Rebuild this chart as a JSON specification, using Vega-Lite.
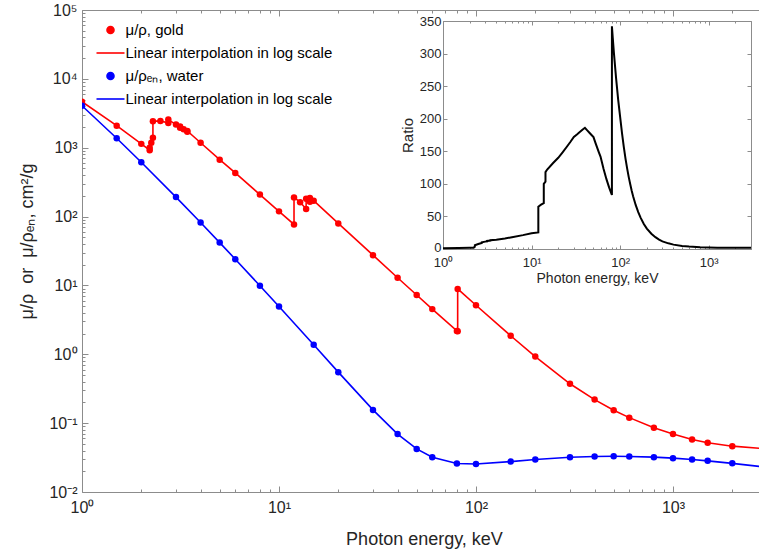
{
  "$schema": "https://vega.github.io/schema/vega-lite/v6.json",
  "width": 677,
  "height": 482,
  "autosize": {"type": "none"},
  "padding": {"left": 82, "top": 10, "right": 0, "bottom": 62},
  "background": "white",
  "config": {
    "view": {"stroke": null},
    "font": "Liberation Sans",
    "axis": {"grid": false, "domainColor": "#8c8c8c", "tickColor": "#8c8c8c", "labelColor": "#262626", "titleColor": "#262626", "titleFontWeight": "normal", "labelFont": "Liberation Sans", "titleFont": "Liberation Sans", "labelOverlap": false, "labelFlush": false}
  },
  "datasets": {
    "gold": [
      {"E": 1, "v": 4652}, {"E": 1.5, "v": 2089}, {"E": 2, "v": 1137},
      {"E": 2.206, "v": 919}, {"E": 2.206, "v": 997}, {"E": 2.248, "v": 1180},
      {"E": 2.291, "v": 1400}, {"E": 2.291, "v": 2420}, {"E": 2.5, "v": 2450},
      {"E": 2.743, "v": 2280}, {"E": 2.743, "v": 2560}, {"E": 3, "v": 2170},
      {"E": 3.148, "v": 1950}, {"E": 3.148, "v": 2030}, {"E": 3.28, "v": 1860},
      {"E": 3.425, "v": 1700}, {"E": 3.425, "v": 1750}, {"E": 4, "v": 1180},
      {"E": 5, "v": 670}, {"E": 6, "v": 430}, {"E": 8, "v": 209}, {"E": 10, "v": 119},
      {"E": 11.919, "v": 77}, {"E": 11.919, "v": 190}, {"E": 12.8, "v": 162},
      {"E": 13.734, "v": 129}, {"E": 13.734, "v": 181}, {"E": 14.353, "v": 164},
      {"E": 14.353, "v": 186}, {"E": 15, "v": 170}, {"E": 20, "v": 79.5},
      {"E": 30, "v": 27.5}, {"E": 40, "v": 12.93}, {"E": 50, "v": 7.256},
      {"E": 60, "v": 4.528}, {"E": 80, "v": 2.185}, {"E": 80.725, "v": 2.155},
      {"E": 80.725, "v": 8.904}, {"E": 100, "v": 5.158}, {"E": 150, "v": 1.859},
      {"E": 200, "v": 0.9276}, {"E": 300, "v": 0.3728}, {"E": 400, "v": 0.2197},
      {"E": 500, "v": 0.1542}, {"E": 600, "v": 0.1202}, {"E": 800, "v": 0.0856},
      {"E": 1000, "v": 0.0695}, {"E": 1250, "v": 0.0579}, {"E": 1500, "v": 0.0519},
      {"E": 2000, "v": 0.0463}, {"E": 3000, "v": 0.0422}
    ],
    "water": [
      {"E": 1, "v": 4065}, {"E": 1.5, "v": 1372}, {"E": 2, "v": 615.2},
      {"E": 3, "v": 191.7}, {"E": 4, "v": 81.91}, {"E": 5, "v": 41.88},
      {"E": 6, "v": 24.05}, {"E": 8, "v": 9.915}, {"E": 10, "v": 4.944},
      {"E": 15, "v": 1.374}, {"E": 20, "v": 0.5503}, {"E": 30, "v": 0.1557},
      {"E": 40, "v": 0.06947}, {"E": 50, "v": 0.04223}, {"E": 60, "v": 0.0319},
      {"E": 80, "v": 0.02597}, {"E": 100, "v": 0.02546}, {"E": 150, "v": 0.02764},
      {"E": 200, "v": 0.02967}, {"E": 300, "v": 0.03192}, {"E": 400, "v": 0.03279},
      {"E": 500, "v": 0.03299}, {"E": 600, "v": 0.03284}, {"E": 800, "v": 0.03206},
      {"E": 1000, "v": 0.03103}, {"E": 1250, "v": 0.02965}, {"E": 1500, "v": 0.02833},
      {"E": 2000, "v": 0.02608}, {"E": 3000, "v": 0.02281}
    ],
    "ratio": [
      {"E": 1, "R": 1.14}, {"E": 1.5, "R": 1.52}, {"E": 2, "R": 1.85},
      {"E": 2.206, "R": 1.98}, {"E": 2.206, "R": 2.15}, {"E": 2.248, "R": 2.7},
      {"E": 2.291, "R": 3.4}, {"E": 2.291, "R": 5.8}, {"E": 2.5, "R": 7.6},
      {"E": 2.743, "R": 9.2}, {"E": 2.743, "R": 10.3}, {"E": 3, "R": 11.3},
      {"E": 3.148, "R": 11.8}, {"E": 3.148, "R": 12.3}, {"E": 3.425, "R": 13.0},
      {"E": 3.425, "R": 13.6}, {"E": 4, "R": 14.3}, {"E": 5, "R": 16.1},
      {"E": 6, "R": 18.2}, {"E": 8, "R": 21.3}, {"E": 10, "R": 24.3},
      {"E": 11.919, "R": 25.5}, {"E": 11.919, "R": 65}, {"E": 12.8, "R": 68},
      {"E": 13.734, "R": 70.5}, {"E": 13.734, "R": 100}, {"E": 14.353, "R": 103.5},
      {"E": 14.353, "R": 118}, {"E": 15, "R": 122}, {"E": 17.5, "R": 132},
      {"E": 20, "R": 140}, {"E": 22.5, "R": 148.6}, {"E": 25, "R": 157},
      {"E": 27.5, "R": 164.6}, {"E": 30, "R": 172}, {"E": 32.5, "R": 175.8},
      {"E": 35, "R": 179.5}, {"E": 37.5, "R": 183}, {"E": 40, "R": 186},
      {"E": 42.5, "R": 182}, {"E": 45, "R": 178.4}, {"E": 47.5, "R": 175},
      {"E": 50, "R": 171.8}, {"E": 52.5, "R": 163.2}, {"E": 55, "R": 155.5},
      {"E": 57.5, "R": 148.4}, {"E": 60, "R": 141.9},
      {"E": 65, "R": 122.7}, {"E": 70, "R": 107.2}, {"E": 75, "R": 94.6},
      {"E": 80, "R": 84.1}, {"E": 80.725, "R": 83.0}, {"E": 80.725, "R": 342},
      {"E": 82.5, "R": 324}, {"E": 85, "R": 301}, {"E": 90, "R": 262}, {"E": 95, "R": 229},
      {"E": 100, "R": 202.6}, {"E": 105, "R": 177.4}, {"E": 110, "R": 156.3},
      {"E": 115, "R": 138.5}, {"E": 120, "R": 123.4}, {"E": 125, "R": 110.4},
      {"E": 130, "R": 99.3}, {"E": 135, "R": 89.5}, {"E": 140, "R": 81.1},
      {"E": 150, "R": 67.3}, {"E": 160, "R": 56.7}, {"E": 170, "R": 48.2},
      {"E": 185, "R": 38.5}, {"E": 200, "R": 31.3}, {"E": 225, "R": 23.5},
      {"E": 250, "R": 18.2}, {"E": 275, "R": 14.4}, {"E": 300, "R": 11.7},
      {"E": 350, "R": 8.7}, {"E": 400, "R": 6.7}, {"E": 500, "R": 4.67},
      {"E": 600, "R": 3.66}, {"E": 800, "R": 2.67}, {"E": 1000, "R": 2.24},
      {"E": 1250, "R": 1.95}, {"E": 1500, "R": 1.83}, {"E": 2000, "R": 1.78},
      {"E": 3000, "R": 1.85}
    ]
  },
  "layer": [
    {
      "layer": [
        {
          "data": {"name": "gold"},
          "mark": {"type": "line", "strokeWidth": 1.6, "clip": true},
          "encoding": {
            "x": {"field": "E", "type": "quantitative", "scale": {"type": "log", "domain": [1, 2733], "nice": false},
              "axis": {"orient": "bottom", "values": [1,2,3,4,5,6,7,8,9,10,20,30,40,50,60,70,80,90,100,200,300,400,500,600,700,800,900,1000,2000],
                "labelExpr": "datum.value==1?'10⁰':datum.value==10?'10¹':datum.value==100?'10²':datum.value==1000?'10³':''",
                "labelFontSize": 16, "labelPadding": 13,
                "tickSize": {"condition": {"test": "indexof([1,10,100,1000], datum.value) >= 0", "value": -6}, "value": -3},
                "title": "Photon energy, keV", "titleFontSize": 18, "titleX": 342, "titleY": 52, "titleBaseline": "alphabetic", "titleAlign": "center"}},
            "y": {"field": "v", "type": "quantitative", "scale": {"type": "log", "domain": [0.01, 100000], "nice": false},
              "axis": {"orient": "left", "values": [0.01,0.02,0.03,0.04,0.05,0.06,0.07,0.08,0.09,0.1,0.2,0.3,0.4,0.5,0.6,0.7,0.8,0.9,1,2,3,4,5,6,7,8,9,10,20,30,40,50,60,70,80,90,100,200,300,400,500,600,700,800,900,1000,2000,3000,4000,5000,6000,7000,8000,9000,10000,20000,30000,40000,50000,60000,70000,80000,90000,100000],
                "labelExpr": "abs(log(datum.value)/LN10 - round(log(datum.value)/LN10)) > 0.001 ? '' : ['10⁻²','10⁻¹','10⁰','10¹','10²','10³','10⁴','10⁵'][round(log(datum.value)/LN10)+2]",
                "labelFontSize": 16, "labelPadding": 11, "labelBaseline": "middle",
                "tickSize": {"condition": {"test": "abs(log(datum.value)/LN10 - round(log(datum.value)/LN10)) < 0.001", "value": -6}, "value": -3},
                "title": "μ/ρ\u00a0\u00a0or\u00a0\u00a0μ/ρₑₙ, cm²/g", "titleFontSize": 18, "titleX": -50, "titleY": 231, "titleBaseline": "alphabetic", "titleAlign": "center", "titleAngle": 270}},
            "color": {"datum": "gl", "type": "nominal",
              "scale": {"domain": ["gp", "gl", "wp", "wl"], "range": ["#ff0000", "#ff0000", "#0000ff", "#0000ff"]},
              "legend": {"orient": "none", "legendX": 19.5, "legendY": 11, "title": null, "padding": 0, "symbolSize": 256, "labelFontSize": 15, "labelColor": "#000000", "labelFont": "Liberation Sans", "labelOffset": 6, "rowPadding": 6, "labelLimit": 0,
                "labelExpr": "datum.value=='gp'?'μ/ρ, gold':datum.value=='wp'?'μ/ρₑₙ, water':'Linear interpolation in log scale'",
                "encode": {"symbols": {"update": {
                  "shape": {"signal": "(datum.value=='gp'||datum.value=='wp') ? 'M-0.4375,0A0.4375,0.4375,0,1,0,0.4375,0A0.4375,0.4375,0,1,0,-0.4375,0Z' : 'M-1.75,0H1.75'"},
                  "fill": {"signal": "datum.value=='gp'?'#ff0000':datum.value=='wp'?'#0000ff':'transparent'"},
                  "stroke": {"signal": "(datum.value=='gp'||datum.value=='gl')?'#ff0000':'#0000ff'"},
                  "strokeWidth": {"value": 1.6},
                  "size": {"value": 256},
                  "opacity": {"value": 1}
                }}}}}
          }
        },
        {
          "data": {"name": "gold"},
          "mark": {"type": "circle", "size": 42, "opacity": 1, "clip": true},
          "encoding": {
            "x": {"field": "E", "type": "quantitative",
              "axis": {"orient": "top", "values": [1,2,3,4,5,6,7,8,9,10,20,30,40,50,60,70,80,90,100,200,300,400,500,600,700,800,900,1000,2000], "labels": false, "title": null,
                "tickSize": {"condition": {"test": "indexof([1,10,100,1000], datum.value) >= 0", "value": -6}, "value": -3}}},
            "y": {"field": "v", "type": "quantitative", "axis": null},
            "color": {"datum": "gp", "type": "nominal"}
          }
        },
        {
          "data": {"name": "water"},
          "mark": {"type": "line", "strokeWidth": 1.6, "clip": true},
          "encoding": {
            "x": {"field": "E", "type": "quantitative", "axis": null},
            "y": {"field": "v", "type": "quantitative", "axis": null},
            "color": {"datum": "wl", "type": "nominal"}
          }
        },
        {
          "data": {"name": "water"},
          "mark": {"type": "circle", "size": 42, "opacity": 1, "clip": true},
          "encoding": {
            "x": {"field": "E", "type": "quantitative", "axis": null},
            "y": {"field": "v", "type": "quantitative", "axis": null},
            "color": {"datum": "wp", "type": "nominal"}
          }
        }
      ],
      "resolve": {"axis": {"x": "independent", "y": "independent"}}
    },
    {
      "layer": [
        {
          "data": {"name": "ratio"},
          "mark": {"type": "line", "strokeWidth": 2, "color": "#000000"},
          "encoding": {
            "x": {"field": "E", "type": "quantitative", "scale": {"type": "log", "domain": [1, 3000], "range": [361, 669], "nice": false},
              "axis": {"orient": "bottom", "offset": -243, "values": [1,2,3,4,5,6,7,8,9,10,20,30,40,50,60,70,80,90,100,200,300,400,500,600,700,800,900,1000,2000,3000],
                "labelExpr": "datum.value==1?'10⁰':datum.value==10?'10¹':datum.value==100?'10²':datum.value==1000?'10³':''",
                "labelFontSize": 13, "labelPadding": 11,
                "tickSize": {"condition": {"test": "indexof([1,10,100,1000], datum.value) >= 0", "value": -4}, "value": -2},
                "title": "Photon energy, keV", "titleFontSize": 14, "titlePadding": 0}},
            "y": {"field": "R", "type": "quantitative", "scale": {"domain": [0, 350], "range": [239, 11], "nice": false, "zero": true},
              "axis": {"orient": "left", "offset": -361, "values": [0,50,100,150,200,250,300,350], "labelFontSize": 13, "labelPadding": 6, "tickSize": -4,
                "labelOffset": {"condition": {"test": "datum.value == 0", "value": -2}, "value": 0},
                "title": "Ratio", "titleFontSize": 15, "titlePadding": 4}}
          }
        },
        {
          "data": {"name": "ratio"},
          "mark": {"type": "line", "opacity": 0},
          "encoding": {
            "x": {"field": "E", "type": "quantitative",
              "axis": {"orient": "top", "offset": -11, "values": [1,2,3,4,5,6,7,8,9,10,20,30,40,50,60,70,80,90,100,200,300,400,500,600,700,800,900,1000,2000,3000], "labels": false, "title": null,
                "tickSize": {"condition": {"test": "indexof([1,10,100,1000], datum.value) >= 0", "value": -4}, "value": -2}}},
            "y": {"field": "R", "type": "quantitative",
              "axis": {"orient": "right", "offset": -8, "values": [0,50,100,150,200,250,300,350], "labels": false, "title": null, "tickSize": -4}}
          }
        }
      ],
      "resolve": {"axis": {"x": "independent", "y": "independent"}}
    }
  ],
  "resolve": {"scale": {"x": "independent", "y": "independent", "color": "independent"}}
}
